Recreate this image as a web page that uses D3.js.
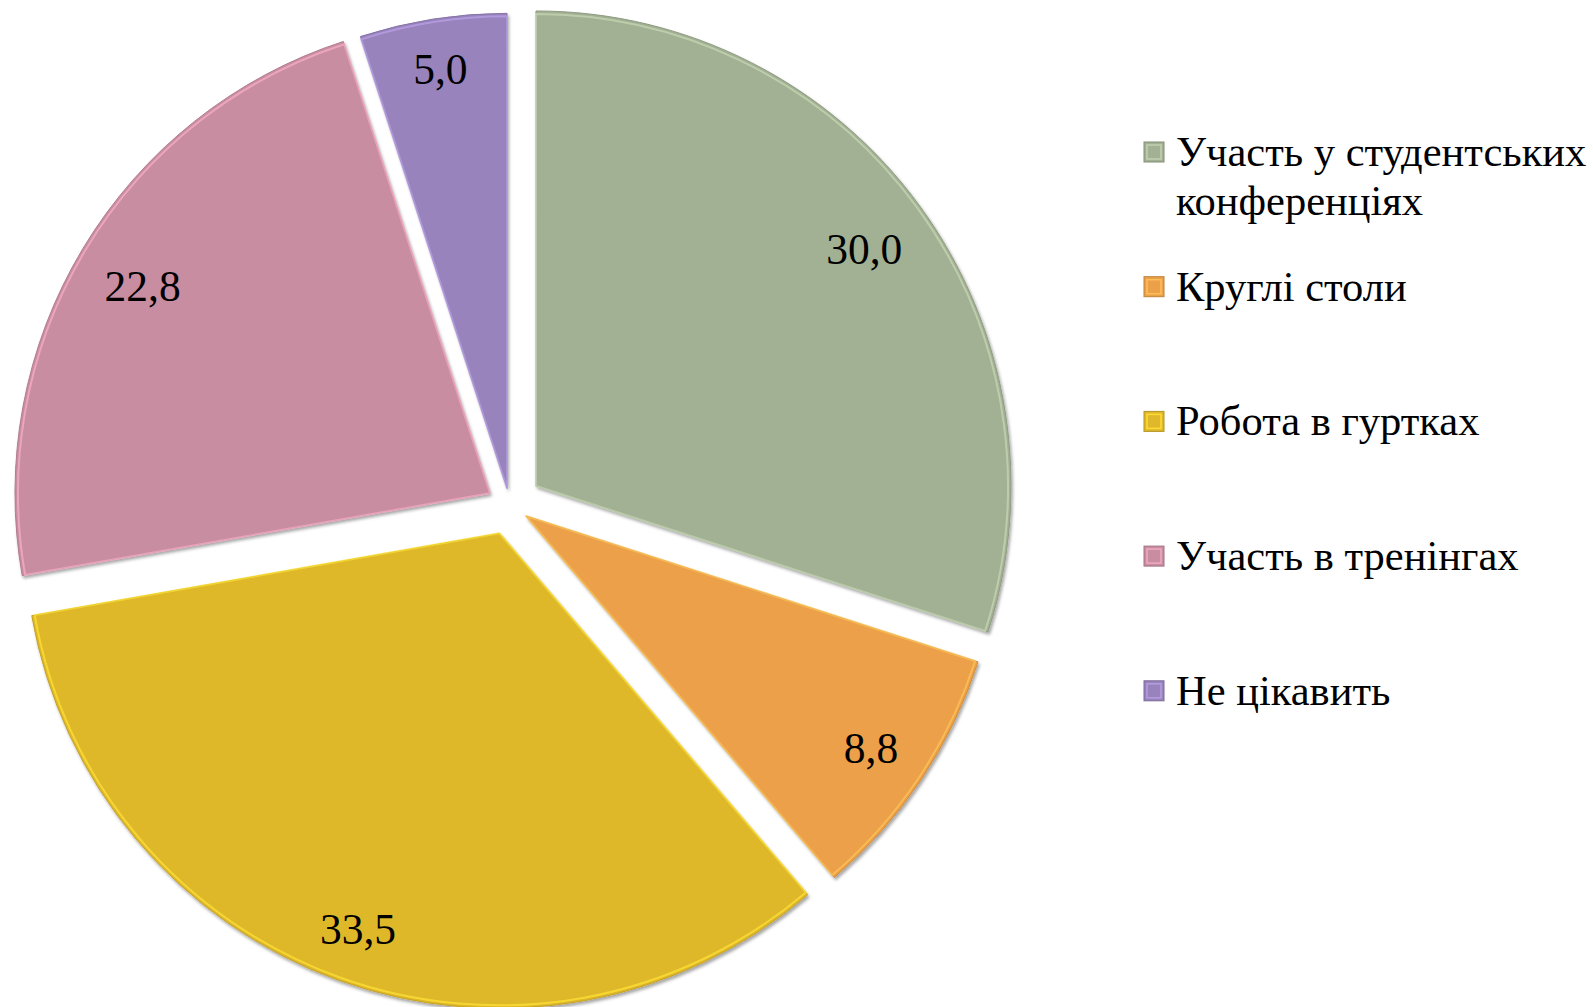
<!DOCTYPE html>
<html>
<head>
<meta charset="utf-8">
<script src="https://cdn.jsdelivr.net/npm/d3@7"></script>
<style>
  html, body { margin: 0; padding: 0; background: #ffffff; }
  svg { display: block; }
  text { font-family: "Liberation Serif", "Times New Roman", serif; fill: #000; }
</style>
</head>
<body>
<svg id="chart" width="1593" height="1007"></svg>
<script>
// ---- data ----
const categories = [
  "Участь у студентських конференціях",
  "Круглі столи",
  "Робота в гуртках",
  "Участь в тренінгах",
  "Не цікавить"
];
const values = [30.0, 8.8, 33.5, 22.8, 5.0];
const colors = ["#A2B093", "#EBA049", "#DFB82C", "#C98DA2", "#9883BC"];

// ---- layout / style ----
const W = 1593, H = 1007;
const cx = 509.7, cy = 505.1, R = 475;
const explode = [32.5, 19.6, 30, 23, 17];   // per-slice explosion distance (px)
const labelFont = 43.5, legendFont = 42.5;

const svg = d3.select("#chart");
const defs = svg.append("defs");
const f = defs.append("filter").attr("id", "shadow")
  .attr("x", "-10%").attr("y", "-10%").attr("width", "120%").attr("height", "120%");
f.append("feDropShadow").attr("dx", 1.5).attr("dy", 2.5)
  .attr("stdDeviation", 1.6).attr("flood-color", "#000").attr("flood-opacity", 0.35);

const pie = d3.pie().sort(null).value(d => d)(values);
const arc = d3.arc().innerRadius(0).outerRadius(R);
const innerArc = d3.arc().innerRadius(0).outerRadius(R - 3);

const g = svg.append("g").attr("transform", `translate(${cx},${cy})`);

const slices = g.selectAll("g.slice").data(pie).join("g")
  .attr("class", "slice")
  .attr("transform", (d, i) => {
    const a = (d.startAngle + d.endAngle) / 2;
    return `translate(${Math.sin(a) * explode[i]},${-Math.cos(a) * explode[i]})`;
  });

slices.append("path")
  .attr("d", arc)
  .attr("fill", (d, i) => colors[i])
  .attr("stroke", (d, i) => d3.color(colors[i]).darker(0.35))
  .attr("stroke-width", 1)
  .attr("filter", "url(#shadow)");

// bevel highlight
slices.append("path")
  .attr("d", innerArc)
  .attr("fill", "none")
  .attr("stroke", (d, i) => d3.color(colors[i]).brighter(0.6))
  .attr("stroke-width", 2)
  .attr("stroke-opacity", 0.7)
  .attr("stroke-linejoin", "round");

// value labels (inside end)
const fmt = v => d3.format(".1f")(v).replace(".", ",");
slices.append("text")
  .attr("font-size", labelFont)
  .attr("text-anchor", "middle")
  .attr("dominant-baseline", "central")
  .text(d => fmt(d.data))
  .each(function (d) {
    const a = (d.startAngle + d.endAngle) / 2;
    const ux = Math.sin(a), uy = -Math.cos(a);
    const w = this.getComputedTextLength();
    const hw = w / 2, hh = labelFont * 0.36;
    const ext = hw * Math.abs(ux) + hh * Math.abs(uy);
    const dist = R - 29 - ext;
    d3.select(this).attr("x", ux * dist).attr("y", uy * dist + 2);
  });

// ---- legend ----
const legX = 1144, legTextX = 1176, legY0 = 166, legStep = 134.7, lineH = 49, maxW = 415;
const leg = svg.append("g");
categories.forEach((name, i) => {
  const by = legY0 + i * legStep;
  leg.append("rect")
    .attr("x", legX).attr("y", by - 24).attr("width", 20).attr("height", 20)
    .attr("fill", colors[i])
    .attr("stroke", d3.color(colors[i]).darker(0.6)).attr("stroke-width", 1);
  leg.append("rect")
    .attr("x", legX + 3).attr("y", by - 21).attr("width", 14).attr("height", 14)
    .attr("fill", "none")
    .attr("stroke", d3.color(colors[i]).brighter(0.5)).attr("stroke-width", 1.5);
  const t = leg.append("text").attr("font-size", legendFont).attr("x", legTextX).attr("y", by);
  // wrap
  const words = name.split(" ");
  let line = [], lineNo = 0;
  let ts = t.append("tspan").attr("x", legTextX).attr("y", by);
  words.forEach(w => {
    line.push(w);
    ts.text(line.join(" "));
    if (ts.node().getComputedTextLength() > maxW && line.length > 1) {
      line.pop();
      ts.text(line.join(" "));
      line = [w];
      lineNo++;
      ts = t.append("tspan").attr("x", legTextX).attr("y", by + lineNo * lineH).text(w);
    }
  });
});
</script>
</body>
</html>
